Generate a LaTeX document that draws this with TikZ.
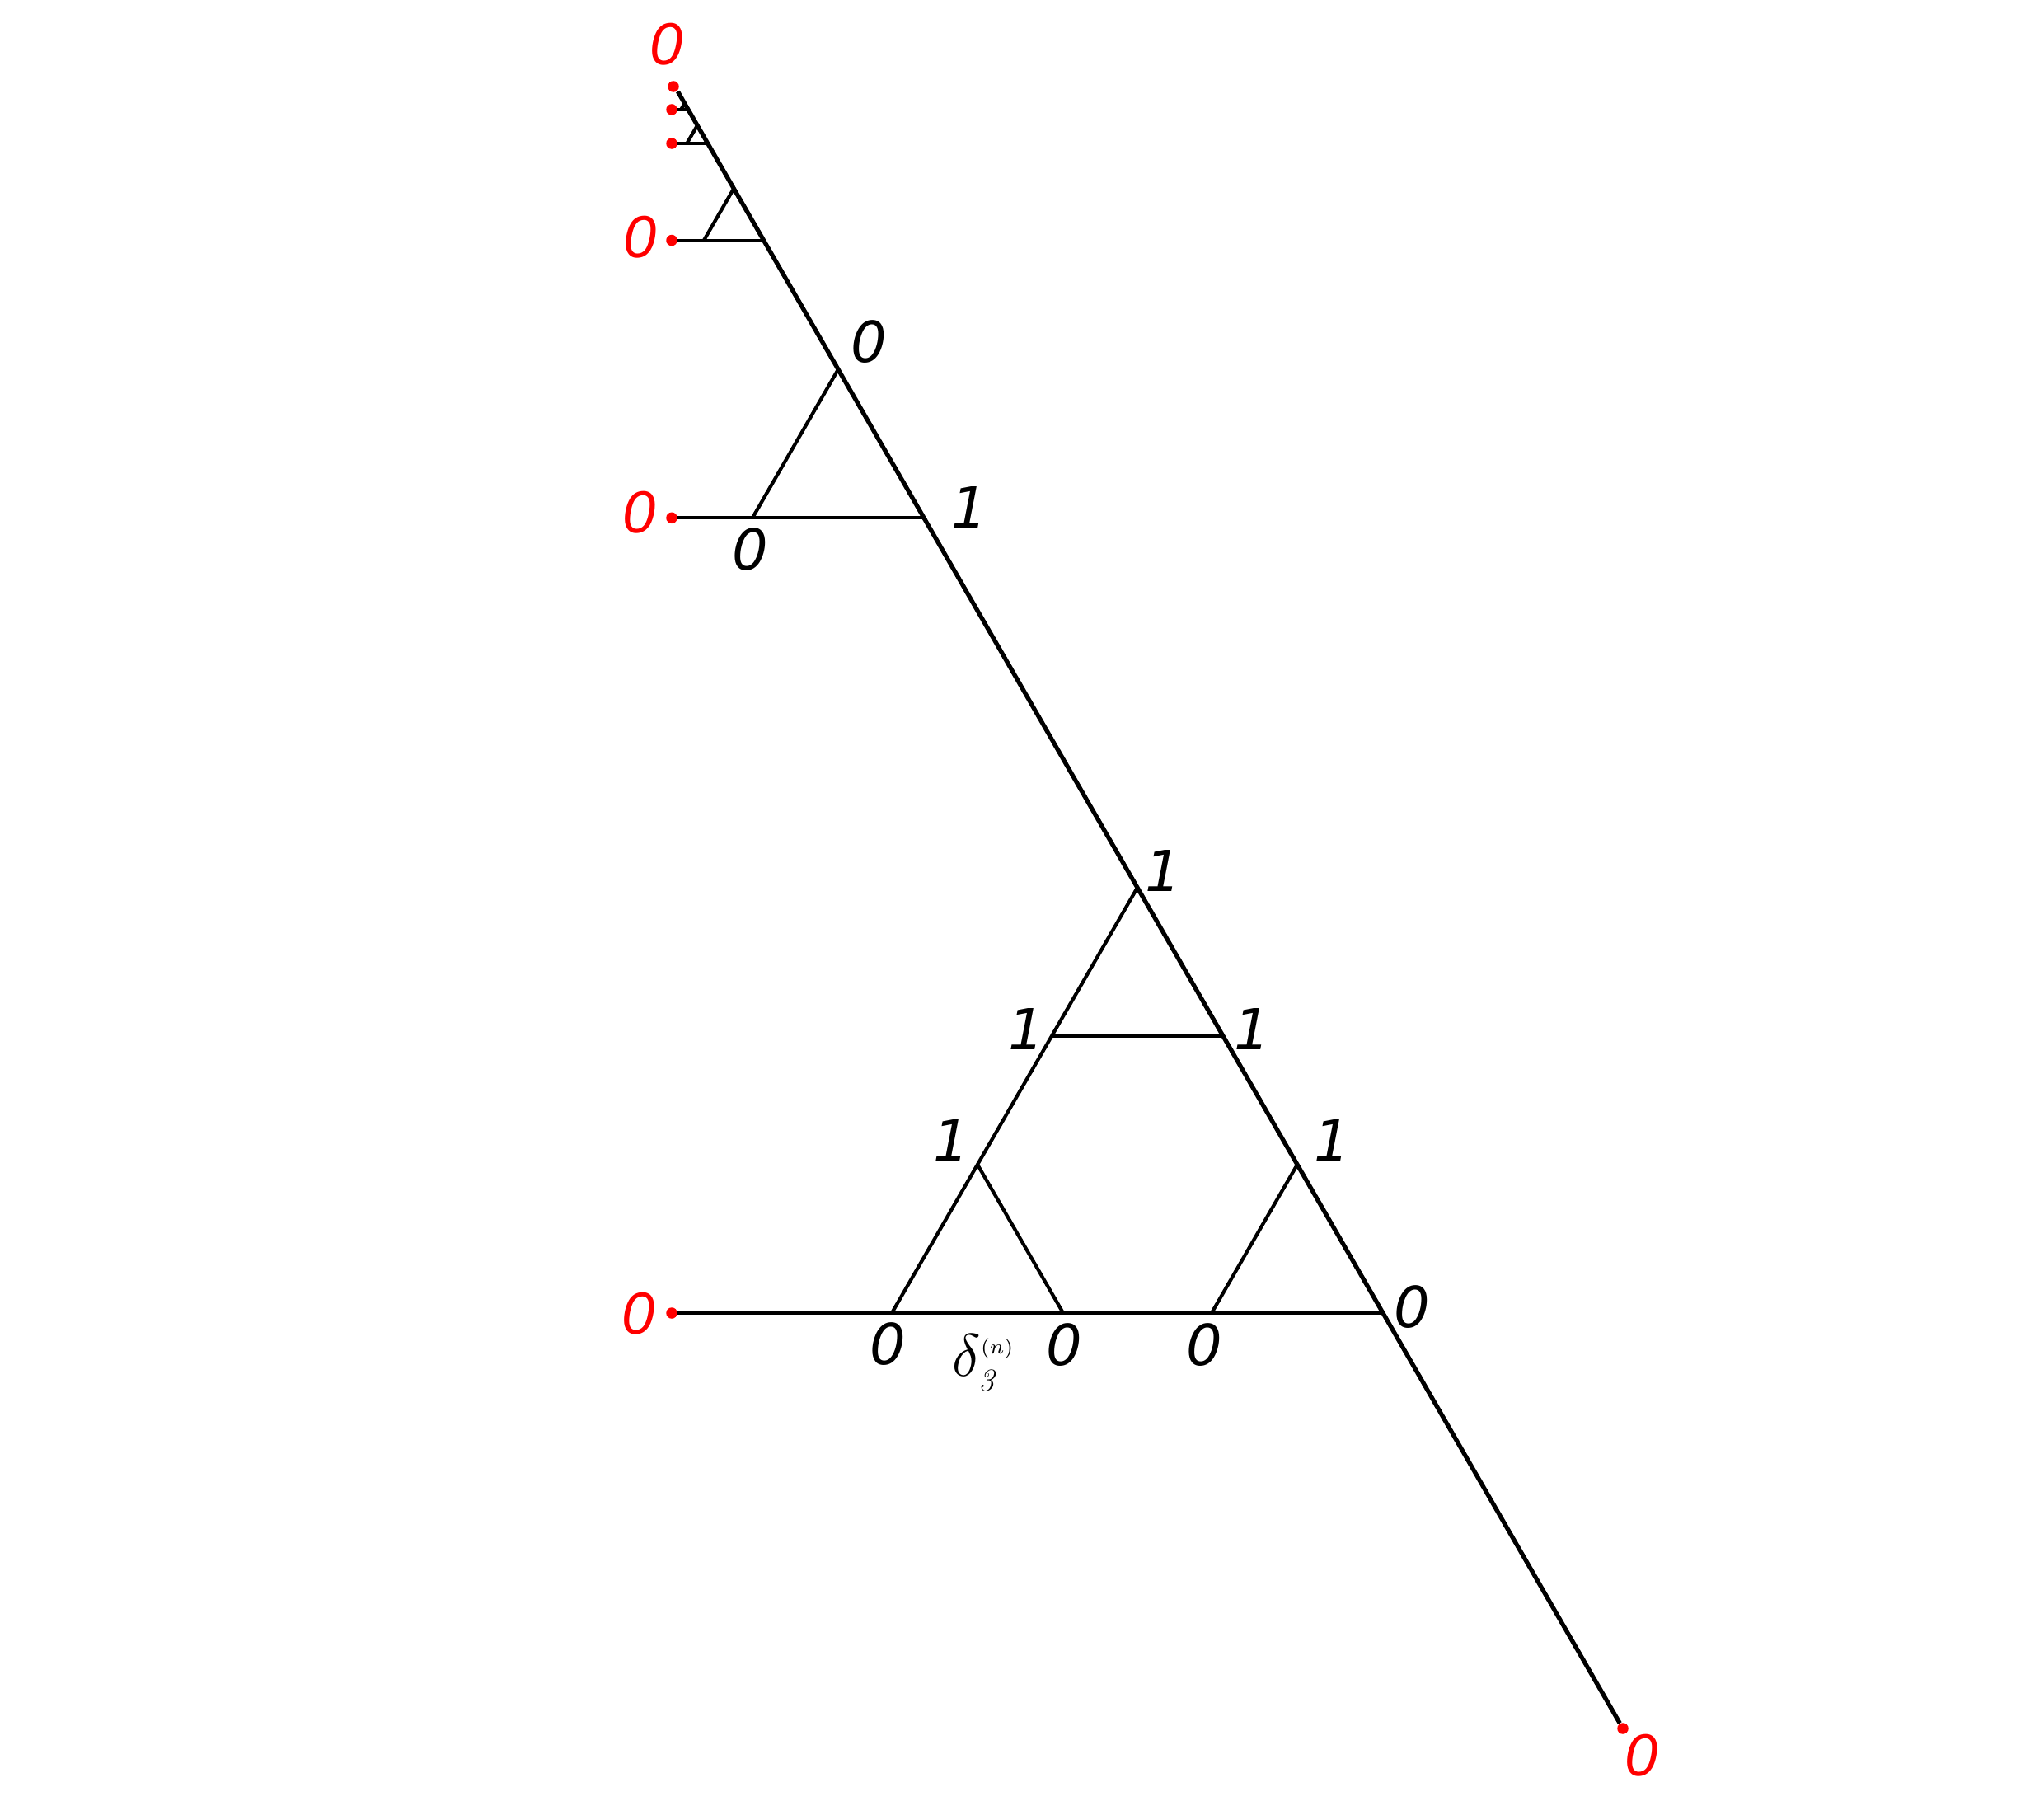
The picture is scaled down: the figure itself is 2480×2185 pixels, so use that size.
\documentclass[tikz,border=0pt]{standalone}
\usepackage{fontspec}
\newfontfamily\blackfont{DejaVu Sans}
\newfontfamily\redfont{Liberation Sans}
\tikzset{
  mainln/.style={line width=1.5pt, black},
  ln/.style={line width=1.2pt, black},
  hln/.style={line width=1.15pt, black},
  dotn/.style={circle, fill=red, draw=none, inner sep=0pt, minimum size=0.135cm},
  blab/.style={font=\blackfont\itshape\fontsize{19.5}{20}\selectfont, inner sep=0pt, text=black},
  rlab/.style={font=\redfont\itshape\fontsize{20.5}{21}\selectfont, inner sep=0pt, text=red},
  dlab/.style={font=\fontsize{21}{21}\selectfont, inner sep=0pt, anchor=base west}
}
\begin{document}
\begin{tikzpicture}[x=0.01cm,y=-0.01cm]
\useasboundingbox (0,0) rectangle (2480,2185);
% big triangle
\coordinate (A) at (1082,1593);
\coordinate (B) at (1678,1593);
\coordinate (C) at (1380,1076.9);
\coordinate (P1) at (1186,1412.9);
\coordinate (P2) at (1276,1257.0);
\coordinate (Q1) at (1574,1412.9);
\coordinate (Q2) at (1484,1257.0);
\coordinate (E1) at (1290,1593);
\coordinate (E2) at (1470,1593);
% self-similar triangles
\coordinate (R1) at (1121,628.3);   \coordinate (T1) at (1017,448.1);   \coordinate (L1) at (913,628.3);
\coordinate (R2) at (926.6,291.6);  \coordinate (T2) at (890.3,228.7);  \coordinate (L2) at (854.0,291.6);
\coordinate (R3) at (858.75,174.0); \coordinate (T3) at (846.1,152.1);  \coordinate (L3) at (833.4,174.0);
\coordinate (R4) at (835.05,133.0); \coordinate (T4) at (830.6,125.3);  \coordinate (L4) at (826.2,133.0);
\coordinate (top) at (822.4,111.1);
% red dots
\node[dotn] (d0) at (815,1593) {};
\node[dotn] (d1) at (815,628.3) {};
\node[dotn] (d2) at (815,291.6) {};
\node[dotn] (d3) at (815,174.0) {};
\node[dotn] (d4) at (815,133.0) {};
\node[dotn] (dtop) at (817,105) {};
\node[dotn] (dbot) at (1969,2097) {};
% main line
\draw[mainln] (top) -- (dbot);
% big triangle pieces
\draw[ln] (A) -- (C);
\draw[ln] (P2) -- (Q2);
\draw[ln] (P1) -- (E1);
\draw[ln] (Q1) -- (E2);
\draw[hln] (d0) -- (B);
% smaller triangles
\foreach \k in {1,2,3,4}{
  \draw[hln] (d\k) -- (R\k);
  \draw[ln] (L\k) -- (T\k);
}
% black labels
\node[blab] (lC) at (1411,1057) {1};
\node[blab] (lP2) at (1245,1248) {1};
\node[blab] (lQ2) at (1519,1248) {1};
\node[blab] (lP1) at (1154,1383) {1};
\node[blab] (lQ1) at (1616,1383) {1};
\node[blab] (lB) at (1713,1586) {0};
\node[blab] (lA) at (1077,1631) {0};
\node[blab] (lE1) at (1291,1632) {0};
\node[blab] (lE2) at (1461,1632) {0};
\node[blab] (lT1) at (1054,415) {0};
\node[blab] (lL1) at (910,667) {0};
\node[blab] (lR1) at (1176,616) {1};
% delta label
\node[dlab] (delta) at (1155,1669) {$\delta^{\mbox{\fontsize{7}{7}\selectfont$(n)$}}_{\mbox{\fontsize{11}{11}\selectfont$\mathit{3}$}}$};
% red labels
\node[rlab] (rtop) at (809,54) {0};
\node[rlab] (r2) at (777,288) {0};
\node[rlab] (r1) at (776,622) {0};
\node[rlab] (r0) at (775,1594) {0};
\node[rlab] (rbot) at (1992,2130) {0};
\end{tikzpicture}
\end{document}
